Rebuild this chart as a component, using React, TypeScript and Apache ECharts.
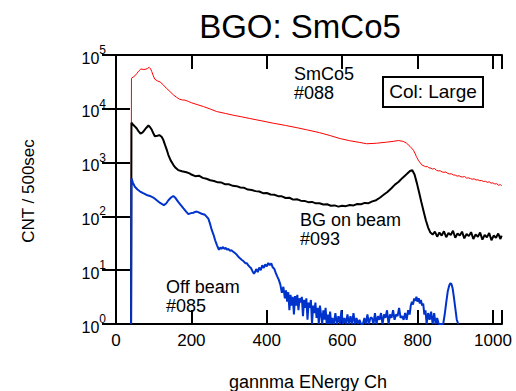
import { useEffect, useRef } from "react";
import * as echarts from "echarts";

// channel / counts pairs
const smco5: [number, number][] = [
  [40, 1], [41, 37000], [46, 39000], [50, 41000], [55, 45000], [60, 50000], [66, 55000], [72, 54000],
  [77, 54000], [83, 56000], [88, 59000], [92, 55000], [95, 49000], [99, 41000], [103, 35500], [110, 33000],
  [117, 31600], [125, 28000], [134, 24000], [143, 21000], [152, 18200], [160, 16500], [168, 15100],
  [176, 14600], [183, 14500], [192, 13700], [201, 12900], [215, 12000], [232, 11000], [250, 9900],
  [267, 8900], [290, 8200], [311, 7600], [333, 7100], [355, 6600], [385, 6000], [417, 5400], [450, 4900],
  [480, 4450], [506, 4070], [540, 3600], [570, 3150], [594, 2800], [620, 2550], [645, 2380], [665, 2240],
  [691, 2290], [718, 2400], [735, 2480], [749, 2570], [762, 2480], [771, 2290], [780, 2000], [789, 1700],
  [794, 1450], [797, 1290], [803, 1080], [811, 910], [818, 860], [822, 835], [826, 850], [830, 800],
  [835, 790], [840, 760], [845, 775], [850, 720], [855, 700], [860, 705], [865, 670], [870, 660],
  [875, 670], [880, 630], [885, 615], [890, 620], [895, 590], [900, 585], [905, 560], [910, 570],
  [915, 545], [920, 540], [925, 550], [930, 515], [935, 520], [940, 505], [945, 490], [950, 500],
  [955, 475], [960, 480], [965, 460], [970, 465], [975, 445], [980, 450], [985, 430], [990, 440],
  [995, 415], [1000, 420], [1005, 400], [1010, 405], [1015, 380], [1020, 390], [1023, 370],
];

const bgOnBeam: [number, number][] = [
  [40, 1], [41, 5500], [45, 5100], [50, 4700], [55, 4300], [60, 3800], [65, 3470], [70, 3600], [74, 3900],
  [80, 4400], [86, 4900], [90, 4600], [95, 4070], [99, 3500], [103, 3100], [110, 3160], [115, 3240],
  [121, 3020], [125, 2700], [130, 2140], [135, 1700], [139, 1380], [145, 1100], [152, 910], [158, 800],
  [165, 725], [175, 690], [187, 660], [195, 630], [200, 600], [210, 560], [220, 570], [230, 520],
  [240, 500], [250, 470], [260, 455], [270, 430], [280, 425], [290, 395], [300, 395], [310, 370],
  [320, 365], [330, 345], [340, 340], [350, 315], [360, 310], [370, 295], [380, 290], [390, 270],
  [400, 272], [410, 255], [420, 252], [430, 238], [440, 236], [450, 220], [460, 222], [470, 205],
  [480, 208], [490, 196], [500, 194], [510, 184], [520, 186], [530, 175], [540, 176], [550, 166],
  [560, 168], [570, 158], [580, 160], [590, 152], [600, 158], [610, 155], [620, 163], [630, 160],
  [640, 170], [650, 168], [660, 178], [670, 176], [680, 190], [690, 200], [700, 222], [710, 252],
  [720, 285], [730, 330], [740, 390], [750, 440], [760, 520], [770, 600], [780, 700], [786, 720],
  [792, 600], [798, 420], [804, 280], [810, 185], [816, 125], [822, 85], [828, 62], [834, 50],
  [840, 46], [846, 52], [852, 42], [858, 50], [864, 44], [870, 53], [876, 41], [882, 49], [888, 45],
  [894, 54], [900, 40], [906, 48], [912, 44], [918, 52], [924, 39], [930, 47], [936, 43], [942, 51],
  [948, 38], [954, 46], [960, 42], [966, 50], [972, 37], [978, 45], [984, 41], [990, 49], [996, 36],
  [1002, 44], [1008, 40], [1014, 48], [1020, 38], [1023, 44],
];

const offBeam: [number, number][] = [
  [40, 1], [41, 510], [45, 420], [50, 355], [57, 316], [64, 290], [72, 270], [81, 250], [90, 240],
  [99, 224], [108, 200], [117, 178], [127, 162], [133, 174], [139, 200], [146, 224], [152, 240],
  [158, 219], [165, 186], [172, 162], [179, 141], [186, 123], [192, 110], [199, 115], [205, 117],
  [212, 123], [218, 120], [227, 112], [236, 107], [245, 91], [250, 71], [254, 56], [259, 45], [263, 36],
  [268, 29], [273, 24], [277, 26.5], [280, 25], [284, 27], [287, 25], [291, 26], [294, 24], [298, 25],
  [302, 23], [306, 23.5], [311, 22], [315, 21], [320, 19.5], [324, 18], [329, 16.6], [334, 15.5],
  [338, 14.8], [343, 13.5], [347, 13.5], [351, 12.3], [355, 11.5], [358, 11], [362, 9.6], [366, 8.6],
  [369, 9.3], [372, 10.5], [376, 9.2], [380, 11.2], [384, 10], [388, 12.3], [392, 11], [396, 12.8],
  [400, 11.8], [404, 13.6], [408, 12.4], [412, 13.4], [416, 11.2], [420, 10.6], [424, 8.8], [428, 7.6],
  [432, 6.6], [436, 5.4], [440, 3.8], [444, 4.9], [448, 3], [451, 4.2], [454, 2.6], [457, 3.9],
  [460, 1.8], [463, 3.5], [466, 2.2], [469, 3.2], [472, 1.5], [475, 3.3], [478, 2.2], [481, 3.5],
  [484, 1.8], [487, 3], [490, 2.5], [493, 3.2], [496, 1.4], [499, 2.8], [502, 2], [505, 3], [508, 1.2],
  [511, 2.5], [514, 2], [517, 2.8], [520, 1], [523, 2.2], [526, 1.6], [529, 2.5], [532, 1.3], [535, 2],
  [538, 1], [541, 2.2], [544, 1.5], [547, 1], [550, 1.8], [553, 1.2], [556, 2], [559, 1], [562, 1.5],
  [565, 1], [568, 1.7], [571, 1], [574, 1.3], [578, 1], [582, 1.6], [586, 1], [590, 1.4], [594, 1],
  [598, 1.8], [602, 1], [606, 1.3], [610, 1], [614, 1.5], [618, 1], [622, 1.4], [626, 1], [630, 1.6],
  [634, 1], [638, 1.3], [642, 1], [646, 1.2], [650, 1], [655, 1], [659, 1.3], [663, 1], [667, 1.5],
  [671, 1], [675, 1.3], [679, 1.3], [683, 1], [687, 1.6], [691, 1], [695, 1.4], [699, 1.2], [703, 1.6],
  [707, 1], [711, 1.5], [715, 1.3], [719, 1.8], [723, 1], [727, 1.5], [731, 1.3], [735, 1.8], [739, 1.2],
  [743, 1.5], [747, 1.4], [751, 2], [755, 1.3], [759, 1.4], [763, 1.2], [767, 1.6], [771, 1.2],
  [775, 1.8], [779, 1.5], [782, 2.2], [785, 2.6], [788, 2.3], [791, 3.0], [794, 2.7], [797, 3.2],
  [800, 2.6], [803, 3.0], [806, 2.4], [809, 2.8], [812, 2.2], [815, 2.4], [818, 1.5], [821, 1.8],
  [824, 1], [828, 1.6], [832, 1.2], [836, 1.7], [840, 1], [844, 1.6], [848, 1], [852, 1.3], [856, 1],
  [862, 1], [868, 1], [872, 1.5], [876, 2.5], [880, 4], [884, 5.2], [887, 5.7], [890, 5.5], [893, 4.6],
  [896, 3.3], [900, 2], [904, 1.2], [908, 1],
];

const xMin = 0;
const xMax = 1024;
const xStep = 200;
const yMin = 1;
const yMax = 100000;

const titleText = "BGO: SmCo5";
const xTitle = "gannma ENergy Ch";
const yTitle = "CNT / 500sec";
const annotations = [
  { text: "SmCo5\n#088", x: 294, y: 74 },
  { text: "BG on beam\n#093", x: 300, y: 220 },
  { text: "Off beam\n#085", x: 166, y: 287 },
];
const boxLabel = "Col: Large";

export default function App() {
  const ref = useRef<HTMLDivElement>(null);
  useEffect(() => {
    const chart = echarts.init(ref.current!, undefined, { renderer: "svg" });
    const font = "'Liberation Sans', Arial, Helvetica, sans-serif";
    const line = { show: true, lineStyle: { color: "#000", width: 2 } };
    const tick = { show: true, inside: true, length: 14, lineStyle: { color: "#000", width: 2 } };
    const xBase = {
      type: "value",
      min: xMin,
      max: xMax,
      interval: xStep,
      axisLine: line,
      axisTick: tick,
      splitLine: { show: false },
    };
    const yBase = {
      type: "log",
      logBase: 10,
      min: yMin,
      max: yMax,
      splitNumber: 5,
      axisLine: line,
      axisTick: tick,
      minorTick: { show: false },
      splitLine: { show: false },
    };
    const graphics: any[] = [
      {
        type: "text",
        x: 300,
        y: 26,
        style: { text: titleText, fontSize: 33, fontFamily: font, fill: "#000", align: "center", verticalAlign: "middle" },
      },
      {
        type: "text",
        x: 308,
        y: 382,
        style: { text: xTitle, fontSize: 18, fontFamily: font, fill: "#000", align: "center", verticalAlign: "middle" },
      },
      {
        type: "text",
        x: 28,
        y: 191,
        rotation: Math.PI / 2,
        style: { text: yTitle, fontSize: 17, fontFamily: font, fill: "#000", align: "center", verticalAlign: "middle" },
      },
      {
        type: "rect",
        shape: { x: 383, y: 77, width: 100, height: 30 },
        style: { fill: "#fff", stroke: "#000", lineWidth: 2 },
        z: 10,
      },
      {
        type: "text",
        x: 433,
        y: 91,
        z: 11,
        style: { text: boxLabel, fontSize: 19, fontFamily: font, fill: "#000", align: "center", verticalAlign: "middle" },
      },
    ];
    annotations.forEach((a) => {
      graphics.push({
        type: "text",
        x: a.x,
        y: a.y + 9.25,
        z: 11,
        style: {
          text: a.text,
          fontSize: 18,
          lineHeight: 18.5,
          fontFamily: font,
          fill: "#000",
          align: "left",
          verticalAlign: "middle",
        },
      });
    });

    chart.setOption({
      animation: false,
      backgroundColor: "#fff",
      textStyle: { fontFamily: font },
      grid: { left: 116, right: 14, top: 55, bottom: 67, containLabel: false },
      xAxis: [
        {
          ...xBase,
          position: "bottom",
          axisLabel: {
            show: true,
            color: "#000",
            fontSize: 17,
            fontFamily: font,
            margin: 8,
            formatter: (v: number) => (v % xStep === 0 ? String(v) : ""),
          },
        },
        { ...xBase, position: "top", axisLabel: { show: false } },
      ],
      yAxis: [
        {
          ...yBase,
          position: "left",
          axisLabel: {
            show: true,
            margin: 10,
            formatter: (v: number) => `{b|10}{s|${Math.round(Math.log10(v))}}`,
            rich: {
              b: { fontSize: 16, fontFamily: font, color: "#000", lineHeight: 22, verticalAlign: "bottom" },
              s: { fontSize: 12, fontFamily: font, color: "#000", verticalAlign: "top" },
            },
          },
        },
        { ...yBase, position: "right", axisLabel: { show: false } },
      ],
      series: [
        {
          name: "SmCo5 #088",
          type: "line",
          data: smco5,
          symbol: "none",
          lineStyle: { color: "#ff0000", width: 1 },
          itemStyle: { color: "#ff0000" },
          z: 2,
        },
        {
          name: "BG on beam #093",
          type: "line",
          data: bgOnBeam,
          symbol: "none",
          lineStyle: { color: "#000000", width: 2 },
          itemStyle: { color: "#000000" },
          z: 3,
        },
        {
          name: "Off beam #085",
          type: "line",
          data: offBeam,
          symbol: "none",
          lineStyle: { color: "#0033cc", width: 2 },
          itemStyle: { color: "#0033cc" },
          z: 4,
        },
      ],
      graphic: graphics,
    });
    return () => chart.dispose();
  }, []);
  return <div ref={ref} style={{ position: "absolute", left: 0, top: 0, width: 516, height: 391 }} />;
}
